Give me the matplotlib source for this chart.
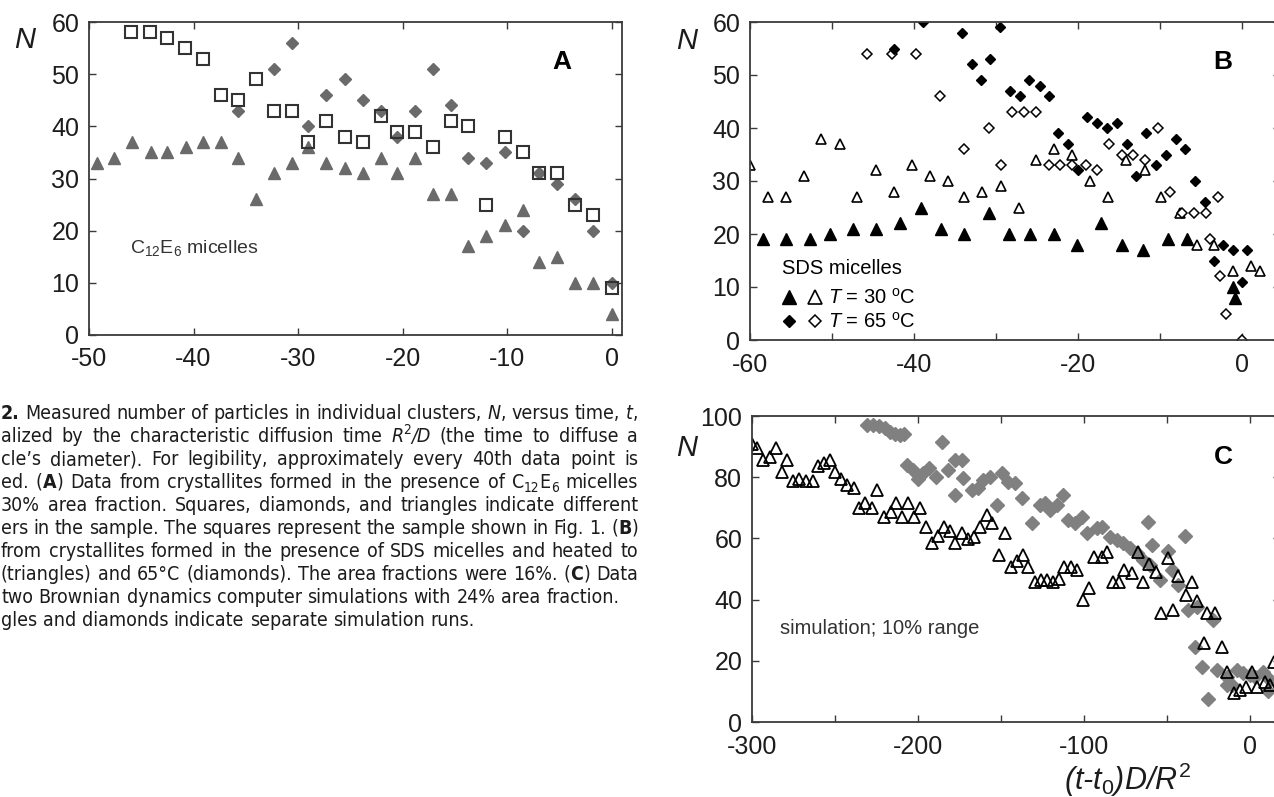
import re
import matplotlib
matplotlib.use('Agg')
from matplotlib import pyplot as plt
from matplotlib import font_manager
from matplotlib.legend_handler import HandlerTuple

W, H = 1274, 797

# ---- panel A: C12E6 micelles ----
sq_t = [-46.0, -44.2, -42.5, -40.8, -39.1, -37.4, -35.7, -34.0, -32.3, -30.6,
        -29.0, -27.3, -25.5, -23.8, -22.1, -20.5, -18.8, -17.1, -15.4, -13.7,
        -12.0, -10.2, -8.5, -6.9, -5.2, -3.5, -1.8, 0.0]
sq_n = [58, 58, 57, 55, 53, 46, 45, 49, 43, 43,
        37, 41, 38, 37, 42, 39, 39, 36, 41, 40,
        25, 38, 35, 31, 31, 25, 23, 9]
dm_t = [-35.7, -32.3, -30.6, -29.0, -27.3, -25.5, -23.8, -22.1, -20.5, -18.8,
        -17.1, -15.4, -13.7, -12.0, -10.2, -8.5, -6.9, -5.2, -3.5, -1.8, 0.0]
dm_n = [43, 51, 56, 40, 46, 49, 45, 43, 38, 43,
        51, 44, 34, 33, 35, 20, 31, 29, 26, 20, 10]
tr_t = [-49.2, -47.6, -45.9, -44.1, -42.5, -40.7, -39.1, -37.4, -35.7, -34.0,
        -32.3, -30.6, -29.0, -27.3, -25.5, -23.8, -22.1, -20.5, -18.8, -17.1,
        -15.4, -13.7, -12.0, -10.2, -8.5, -6.9, -5.2, -3.5, -1.8, 0.0]
tr_n = [33, 34, 37, 35, 35, 36, 37, 37, 34, 26,
        31, 33, 36, 33, 32, 31, 34, 31, 34, 27,
        27, 17, 19, 21, 24, 14, 15, 10, 10, 4]

# ---- panel B: SDS micelles, 30 C (triangles) and 65 C (diamonds) ----
b30o_t = [-60.0, -57.8, -55.6, -53.4, -51.3, -49.0, -46.9, -44.6, -42.4, -40.3,
          -38.1, -35.9, -33.9, -31.7, -29.4, -27.2, -25.2, -22.9, -20.8, -18.5,
          -16.4, -14.2, -11.9, -9.9, -7.6, -5.5, -3.4, -1.1, 1.1, 2.2]
b30o_n = [33, 27, 27, 31, 38, 37, 27, 32, 28, 33,
          31, 30, 27, 28, 29, 25, 34, 36, 35, 30,
          27, 34, 32, 27, 24, 18, 18, 13, 14, 13]
b30f_t = [-58.4, -55.6, -52.7, -50.2, -47.5, -44.7, -41.7, -39.1, -36.7, -33.9,
          -30.9, -28.4, -25.9, -22.9, -20.1, -17.2, -14.7, -12.1, -9.0, -6.7,
          -1.1, -0.9]
b30f_n = [19, 19, 19, 20, 21, 21, 22, 25, 21, 20,
          24, 20, 20, 20, 18, 22, 18, 17, 19, 19,
          10, 8]
b65o_t = [-45.7, -42.7, -39.8, -36.8, -33.9, -30.9, -29.4, -28.1, -26.6, -25.1,
          -23.5, -22.2, -20.7, -19.1, -17.7, -16.2, -14.7, -13.3, -11.8, -10.3,
          -8.8, -7.4, -5.9, -4.4, -3.9, -2.9, -2.7, -2.0, 0.0]
b65o_n = [54, 54, 54, 46, 36, 40, 33, 43, 43, 43,
          33, 33, 33, 33, 32, 37, 35, 35, 34, 40,
          28, 24, 24, 24, 19, 27, 12, 5, 0]
b65f_t = [-42.5, -38.9, -34.2, -33.0, -31.9, -30.7, -29.5, -28.3, -27.1, -26.0,
          -24.7, -23.5, -22.4, -21.3, -20.0, -18.9, -17.7, -16.5, -15.3, -14.1,
          -12.9, -11.7, -10.5, -9.3, -8.1, -7.0, -5.8, -4.6, -3.5, -2.3,
          -1.1, 0.0, 0.6]
b65f_n = [55, 60, 58, 52, 49, 53, 59, 47, 46, 49,
          48, 46, 39, 37, 32, 42, 41, 40, 41, 37,
          31, 39, 33, 35, 38, 36, 30, 26, 15, 18,
          17, 11, 17]

# ---- panel C: two simulation runs ----
ct_t = [-300.2, -296.8, -293.2, -289.2, -285.5, -282.1, -278.7, -275.5, -271.5, -267.6,
        -263.4, -260.4, -256.4, -253.0, -250.0, -246.4, -242.6, -238.6, -235.5, -231.9,
        -227.9, -224.5, -220.3, -216.4, -213.3, -209.4, -205.8, -202.4, -198.8, -195.4,
        -191.4, -187.8, -184.3, -180.7, -177.7, -173.7, -169.7, -166.3, -162.7, -158.6,
        -155.6, -151.0, -147.6, -144.2, -140.6, -136.9, -133.5, -129.5, -126.1, -122.5,
        -118.9, -114.9, -112.0, -108.0, -104.4, -100.4, -96.8, -94.0, -89.3, -85.9,
        -82.3, -78.7, -75.9, -71.3, -67.7, -64.6, -60.7, -56.6, -53.8, -49.2,
        -46.6, -43.2, -38.6, -35.1, -31.7, -27.7, -25.7, -21.1, -17.0, -14.0,
        -9.6, -6.0, -2.4, 1.0, 4.0, 9.0, 12.0, 14.1]
ct_n = [91.0, 89.4, 85.6, 86.5, 89.4, 81.8, 85.6, 78.9, 79.3, 78.9,
        78.9, 83.8, 84.7, 85.6, 81.8, 79.3, 77.5, 76.4, 69.8, 71.7,
        69.8, 75.8, 66.9, 68.7, 71.7, 66.9, 71.7, 66.9, 69.8, 63.6,
        58.6, 60.8, 63.6, 62.5, 58.4, 61.7, 59.7, 60.6, 63.8, 67.6,
        64.9, 54.6, 61.7, 50.8, 52.7, 54.6, 50.8, 45.8, 46.4, 46.4,
        45.8, 46.6, 50.8, 50.8, 49.7, 39.9, 43.7, 53.8, 53.8, 55.7,
        45.8, 45.8, 49.7, 48.8, 55.7, 45.8, 51.6, 49.1, 35.5, 53.5,
        36.6, 47.7, 41.5, 45.7, 39.6, 25.7, 35.5, 35.5, 24.6, 16.2,
        9.4, 10.5, 11.5, 16.4, 11.5, 13.2, 12.2, 19.7]
cd_t = [-230.9, -226.9, -223.3, -219.9, -216.9, -213.9, -210.8, -208.2, -206.8, -203.2,
        -199.8, -196.8, -193.2, -189.2, -185.7, -181.7, -177.7, -177.7, -173.7, -172.7,
        -167.7, -163.7, -160.6, -156.6, -152.6, -149.6, -145.6, -141.6, -137.5, -131.5,
        -126.5, -123.5, -120.5, -116.5, -112.5, -109.4, -105.4, -101.4, -98.4, -92.4,
        -89.3, -84.3, -80.3, -76.3, -72.3, -68.3, -64.3, -61.3, -60.2, -59.2,
        -54.2, -49.2, -47.2, -43.2, -39.2, -37.2, -33.1, -32.1, -29.1, -25.1,
        -22.1, -20.1, -14.0, -14.0, -11.0, -8.0, -4.0, 0.0, 3.0, 8.0,
        11.0, 12.0]
cd_n = [97.1, 97.1, 96.7, 96.0, 94.9, 94.1, 93.8, 94.1, 84.0, 82.4,
        79.3, 81.5, 82.9, 80.2, 91.5, 82.4, 85.6, 74.2, 85.6, 79.6,
        75.8, 76.4, 79.1, 80.2, 70.9, 81.3, 78.5, 78.0, 73.1, 64.9,
        70.9, 71.5, 69.3, 70.9, 74.2, 66.0, 64.9, 67.1, 61.7, 63.3,
        63.8, 60.6, 59.5, 58.4, 56.8, 55.1, 52.9, 65.5, 51.3, 57.8,
        46.4, 56.0, 49.7, 44.8, 60.8, 36.6, 24.6, 37.7, 18.1, 7.4,
        33.3, 17.0, 14.8, 12.0, 12.1, 17.0, 15.9, 15.4, 14.8, 16.4,
        10.2, 13.7]

caption = [
    "**2.** Measured number of particles in individual clusters, *N*, versus time, *t*,",
    "alized by the characteristic diffusion time *R*^{2}*/D* (the time to diffuse a",
    "cle\u2019s diameter). For legibility, approximately every 40th data point is",
    "ed. (**A**) Data from crystallites formed in the presence of C_{12}E_{6} micelles",
    "30% area fraction. Squares, diamonds, and triangles indicate different",
    "ers in the sample. The squares represent the sample shown in Fig. 1. (**B**)",
    "from crystallites formed in the presence of SDS micelles and heated to",
    "(triangles) and 65\u00b0C (diamonds). The area fractions were 16%. (**C**) Data",
    "two Brownian dynamics computer simulations with 24% area fraction.",
    "gles and diamonds indicate separate simulation runs.",
]
justified = [True] * 8 + [False, False]

plt.rcParams['font.family'] = ['Liberation Sans', 'DejaVu Sans']
plt.rcParams['axes.unicode_minus'] = False
plt.rcParams['mathtext.fontset'] = 'custom'
plt.rcParams['mathtext.rm'] = 'Liberation Sans'
plt.rcParams['mathtext.it'] = 'Liberation Sans:italic'
plt.rcParams['mathtext.bf'] = 'Liberation Sans:bold'

installed = {f.name for f in font_manager.fontManager.ttflist}
if 'Liberation Sans Narrow' in installed:
    CAP_FONT, CAP_STRETCH = 'Liberation Sans Narrow', 'normal'
else:
    CAP_FONT, CAP_STRETCH = 'DejaVu Sans', 'condensed'
CAP_SIZE = 14
INK = '#1c1c1c'
GRAY = '#6a6a6a'

fig = plt.figure(figsize=(W / 100, H / 100), dpi=100)
renderer = fig.canvas.get_renderer()


def box(left, top, right, bottom):
    # pixel edges (from top-left) -> figure fraction rect
    return [left / W, 1 - bottom / H, (right - left) / W, (bottom - top) / H]


def fig_text(x, y, s, **kw):
    return fig.text(x / W, 1 - y / H, s, **kw)


def style_axes(ax):
    for sp in ax.spines.values():
        sp.set_color('#3a3a3a')
        sp.set_linewidth(1.3)
    ax.tick_params(which='both', direction='in', top=True, right=True, length=5,
                   width=1, color='#3a3a3a', labelsize=18, labelcolor=INK, pad=7)
    ax.tick_params(axis='x', pad=9)


# panel A
axA = fig.add_axes(box(89, 22, 622, 335))
axA.plot(dm_t, dm_n, 'D', ms=6, color=GRAY)
axA.plot(tr_t, tr_n, '^', ms=8.5, color=GRAY)
axA.plot(sq_t, sq_n, 's', ms=8.5, mfc='none', mec='#333333', mew=1.5)
axA.set_xlim(-50, 1)
axA.set_ylim(0, 60)
axA.set_xticks(range(-50, 1, 10))
axA.set_yticks(range(0, 61, 10))
style_axes(axA)
axA.text(0.077, 0.278, r'C$_{12}$E$_6$ micelles', transform=axA.transAxes,
         fontsize=14, color='#333333', va='center')
axA.text(0.887, 0.872, 'A', transform=axA.transAxes, fontsize=19,
         fontweight='bold', ha='center', va='center')
fig_text(25, 40, 'N', fontsize=21, fontstyle='italic', ha='center', va='center', color=INK)

# panel B
axB = fig.add_axes(box(750, 22, 1280, 340))
h30o, = axB.plot(b30o_t, b30o_n, '^', ms=7.5, mfc='white', mec='black', mew=1.2)
h65o, = axB.plot(b65o_t, b65o_n, 'D', ms=4.8, mfc='white', mec='black', mew=1.1)
h30f, = axB.plot(b30f_t, b30f_n, '^', ms=8, color='black')
h65f, = axB.plot(b65f_t, b65f_n, 'D', ms=5, color='black')
axB.set_xlim(-60, 4.6)
axB.set_ylim(0, 60)
axB.set_xticks([-60, -40, -20, 0])
axB.set_xticks([-50, -30, -10], minor=True)
axB.set_yticks(range(0, 61, 10))
style_axes(axB)
leg = axB.legend([(h30f, h30o), (h65f, h65o)],
                 [r'$T$ = 30 $^{\rm o}$C', r'$T$ = 65 $^{\rm o}$C'],
                 handler_map={tuple: HandlerTuple(ndivide=None, pad=0.5)},
                 title='SDS micelles', alignment='left', loc='lower left',
                 bbox_to_anchor=(0.06, 0.025), frameon=False, fontsize=14.5,
                 title_fontsize=14.5, handlelength=2.0, handletextpad=0.3,
                 labelspacing=0.22, borderpad=0, borderaxespad=0, markerscale=1.3)
leg._legend_box.sep = 7
axB.text(0.892, 0.874, 'B', transform=axB.transAxes, fontsize=19,
         fontweight='bold', ha='center', va='center')
fig_text(687, 41, 'N', fontsize=21, fontstyle='italic', ha='center', va='center', color=INK)

# panel C
axC = fig.add_axes(box(752, 416, 1280, 722))
axC.plot(cd_t, cd_n, 'D', ms=7.5, color='#808080')
axC.plot(ct_t, ct_n, '^', ms=9, mfc='none', mec='black', mew=1.3)
axC.set_xlim(-300, 18)
axC.set_ylim(0, 100)
axC.set_xticks([-300, -200, -100, 0])
axC.set_xticks([-250, -150, -50], minor=True)
axC.set_yticks(range(0, 101, 20))
style_axes(axC)
axC.text(0.053, 0.307, 'simulation; 10% range', transform=axC.transAxes,
         fontsize=14.5, color='#333333', va='center')
axC.text(0.892, 0.866, 'C', transform=axC.transAxes, fontsize=19,
         fontweight='bold', ha='center', va='center')
fig_text(687, 448, 'N', fontsize=21, fontstyle='italic', ha='center', va='center', color=INK)
fig_text(1128, 780, r'($t$-$t_0$)$D$/$R^2$', fontsize=22, fontstyle='italic',
         ha='center', va='center', color=INK)

# caption, set word by word so the lines can be justified
TOKEN = re.compile(r"\*\*(.+?)\*\*|\*(.+?)\*|_\{(.+?)\}|\^\{(.+?)\}|([^*_^]+)")


def word_parts(word):
    parts = []
    for m in TOKEN.finditer(word):
        bold, ital, sub, sup, plain = m.groups()
        if bold:
            parts.append((bold, {'fontweight': 'bold'}, 1.0, 0.0))
        elif ital:
            parts.append((ital, {'fontstyle': 'italic'}, 1.0, 0.0))
        elif sub:
            parts.append((sub, {}, 0.7, -0.22))
        elif sup:
            parts.append((sup, {}, 0.7, 0.42))
        else:
            parts.append((plain, {}, 1.0, 0.0))
    return parts


def cap_width(s):
    t = fig.text(0, 0, s, fontsize=CAP_SIZE, family=[CAP_FONT, 'DejaVu Sans'],
                 fontstretch=CAP_STRETCH)
    w = t.get_window_extent(renderer).width
    t.remove()
    return w


space = cap_width('a a') - cap_width('aa')
CAP_LEFT, CAP_RIGHT = 1, 638

for i, line in enumerate(caption):
    base = 419 + 23 * i
    words = []
    for word in line.split(' '):
        items = []
        for s, kw, scale, rise in word_parts(word):
            y = (H - base + rise * CAP_SIZE * 100 / 72) / H
            t = fig.text(0, y, s, fontsize=CAP_SIZE * scale, va='baseline',
                         family=[CAP_FONT, 'DejaVu Sans'], fontstretch=CAP_STRETCH,
                         color=INK, **kw)
            items.append((t, t.get_window_extent(renderer).width))
        words.append(items)
    total = sum(w for items in words for _, w in items)
    gap = (CAP_RIGHT - CAP_LEFT - total) / (len(words) - 1) if justified[i] else space
    x = CAP_LEFT
    for items in words:
        for t, w in items:
            t.set_x(x / W)
            x += w
        x += gap

fig.savefig('out.png', dpi=100, facecolor='white')
